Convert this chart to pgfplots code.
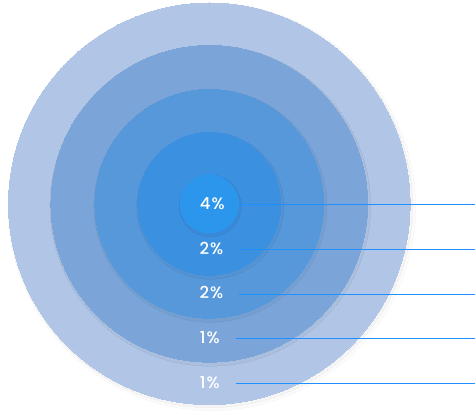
\documentclass[border=0pt]{standalone}
\usepackage{pgfplots}
\pgfplotsset{compat=1.18}
\usepackage{fontspec}
\setmainfont{Poppins}
\newfontfamily\lab{Poppins Medium}[LetterSpace=6]
\definecolor{c1}{RGB}{177,198,230}
\definecolor{c2}{RGB}{123,165,217}
\definecolor{c3}{RGB}{87,152,219}
\definecolor{c4}{RGB}{59,144,224}
\definecolor{c5}{RGB}{43,150,235}
\definecolor{lc}{RGB}{30,144,255}
\begin{document}
\begin{tikzpicture}
\begin{axis}[scale only axis, width=475pt, height=418pt,
  xmin=0, xmax=475, ymin=0, ymax=418, y dir=reverse, hide axis, clip=false,
  clip marker paths=true, /pgf/number format/assume math mode=true,
  circ/.style={only marks, mark=*, color=#1, mark options={line width=0pt}},
  shad/.style={only marks, mark=*, color=black, mark options={line width=0pt, opacity=#1}}]
\path (axis cs:0,0) rectangle (axis cs:475,418);
% soft shadows + circles
\addplot[shad=0.015, mark size=204pt] coordinates {(212,207)};
\addplot[shad=0.025, mark size=202pt] coordinates {(211,206)};
\addplot[circ=c1, mark size=201pt] coordinates {(209.5,204)};
\addplot[shad=0.035, mark size=160.5pt] coordinates {(210.5,206)};
\addplot[circ=c2, mark size=158.5pt] coordinates {(209.5,204)};
\addplot[shad=0.035, mark size=116.5pt] coordinates {(210.5,206)};
\addplot[circ=c3, mark size=114.5pt] coordinates {(209.5,204)};
\addplot[shad=0.035, mark size=73.5pt] coordinates {(210.5,206)};
\addplot[circ=c4, mark size=71.5pt] coordinates {(209.5,204)};
\addplot[shad=0.035, mark size=31pt] coordinates {(210.5,206)};
\addplot[circ=c5, mark size=29pt] coordinates {(209.5,204)};
% leader lines
\addplot[lc, line width=0.9pt] coordinates {(240,205) (475,205)};
\addplot[lc, line width=0.9pt] coordinates {(240,250) (475,250)};
\addplot[lc, line width=0.9pt] coordinates {(239,295) (475,295)};
\addplot[lc, line width=0.9pt] coordinates {(236,339) (475,339)};
\addplot[lc, line width=0.9pt] coordinates {(236,384) (475,384)};
% labels
\addplot[only marks, mark=none, point meta=explicit,
  nodes near coords={\pgfmathprintnumber{\pgfplotspointmeta}\%},
  nodes near coords style={text=white, font=\lab\fontsize{16.5}{16.5}\selectfont, anchor=center, inner sep=0pt}]
  table[meta=v] {
x y v
212.5 203.5 4
211.5 248.5 2
211.5 293 2
210 338 1
210 383 1
};
\end{axis}
\end{tikzpicture}
\end{document}
